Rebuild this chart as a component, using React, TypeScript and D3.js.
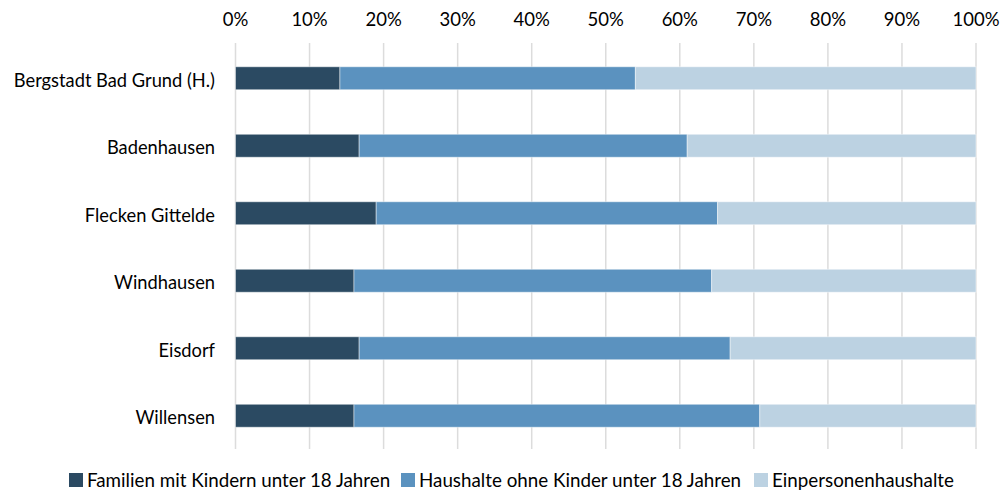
import React from "react";
import * as d3 from "d3";

// Gemeinden (top to bottom)
const categories = [
  "Bergstadt Bad Grund (H.)",
  "Badenhausen",
  "Flecken Gittelde",
  "Windhausen",
  "Eisdorf",
  "Willensen",
];

// Shares of households in percent
const familien = [14.1, 16.7, 19.0, 16.0, 16.7, 16.0];
const ohneKinder = [39.9, 44.3, 46.1, 48.3, 50.1, 54.8];
const einpersonen = [46.0, 39.0, 34.9, 35.7, 33.2, 29.2];

const seriesNames = [
  "Familien mit Kindern unter 18 Jahren",
  "Haushalte ohne Kinder unter 18 Jahren",
  "Einpersonenhaushalte",
];
const seriesColors = ["#2b4a62", "#5b92bf", "#bcd2e2"];

const xTicks = [0, 10, 20, 30, 40, 50, 60, 70, 80, 90, 100];

const W = 1001;
const H = 491;
const FONT = "Lato, 'Open Sans', sans-serif";

export default function App() {
  const x = d3.scaleLinear().domain([0, 100]).range([235.5, 976]);
  const y = d3
    .scaleBand<string>()
    .domain(categories)
    .range([44.5, 449.5])
    .paddingInner(0.66)
    .paddingOuter(0.33);

  const rows = categories.map((c, i) => ({
    cat: c,
    v: [familien[i], ohneKinder[i], einpersonen[i]],
  }));
  const stack = d3.stack<any>().keys(["0", "1", "2"]).value((d, k) => d.v[+k]);
  const stacked = stack(rows as any);

  const legendItems = [
    { sq: 69, tx: 87 },
    { sq: 401, tx: 419 },
    { sq: 754, tx: 772 },
  ];

  return (
    <svg
      width={W}
      height={H}
      style={{ position: "absolute", left: 0, top: 0, background: "#fff" }}
      fontFamily={FONT}
    >
      <rect width={W} height={H} fill="#fff" />
      {/* vertical gridlines */}
      {xTicks.map((t) => (
        <line
          key={"g" + t}
          x1={x(t)}
          x2={x(t)}
          y1={43}
          y2={449}
          stroke="#dcdcdc"
          strokeWidth={1.5}
        />
      ))}
      {/* top axis labels */}
      {xTicks.map((t) => (
        <text
          key={"t" + t}
          x={x(t)}
          y={26}
          textAnchor="middle"
          fontSize={18.5}
          fill="#000"
        >
          {t + "%"}
        </text>
      ))}
      {/* stacked bars */}
      {stacked.map((layer, si) =>
        layer.map((seg, ri) => (
          <rect
            key={si + "-" + ri}
            x={x(seg[0])}
            y={y(categories[ri])!}
            width={x(seg[1]) - x(seg[0])}
            height={y.bandwidth()}
            fill={seriesColors[si]}
            stroke="#ffffff"
            strokeOpacity={0.45}
            strokeWidth={1}
          />
        ))
      )}
      {/* category labels */}
      {categories.map((c) => (
        <text
          key={"c" + c}
          x={215}
          y={y(c)! + y.bandwidth() / 2 + 8.5}
          textAnchor="end"
          fontSize={18.3}
          fill="#000"
        >
          {c}
        </text>
      ))}
      {/* legend */}
      {seriesNames.map((n, i) => (
        <g key={"l" + i}>
          <rect
            x={legendItems[i].sq}
            y={473}
            width={14}
            height={14}
            fill={seriesColors[i]}
          />
          <text x={legendItems[i].tx} y={487} fontSize={18.8} fill="#000">
            {n}
          </text>
        </g>
      ))}
    </svg>
  );
}
